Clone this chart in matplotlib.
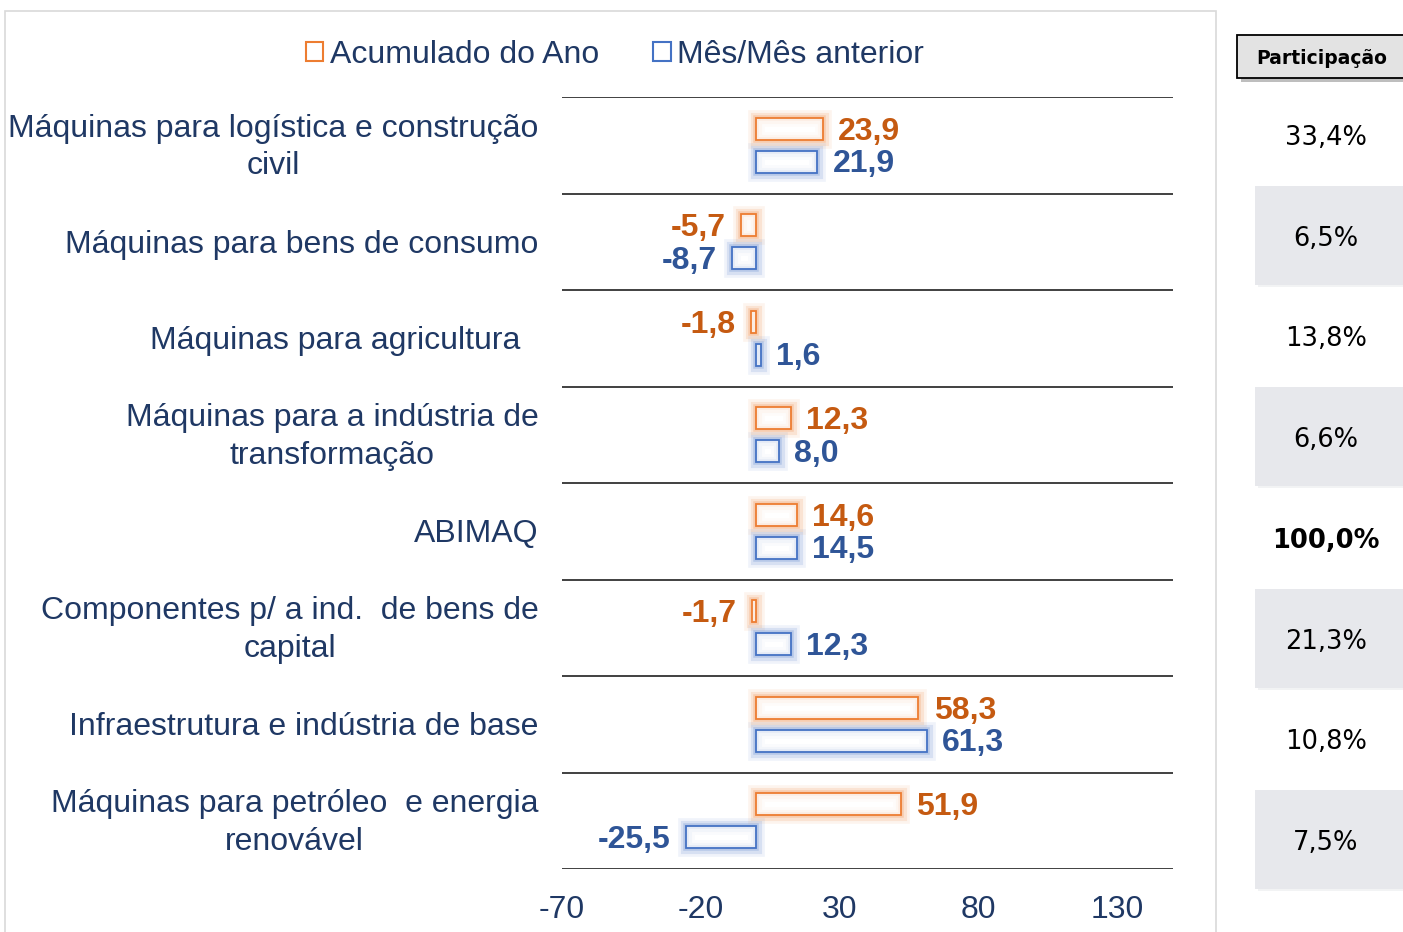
import matplotlib.pyplot as plt
import matplotlib.patheffects as pe
import matplotlib.transforms as mtransforms
from matplotlib.patches import Rectangle
import numpy as np

plt.rcParams['font.family'] = ['Liberation Sans', 'DejaVu Sans']

categorias = ['Máquinas para logística e construção\ncivil',
              'Máquinas para bens de consumo',
              'Máquinas para agricultura  ',
              'Máquinas para a indústria de\ntransformação',
              'ABIMAQ',
              'Componentes p/ a ind.  de bens de\ncapital',
              'Infraestrutura e indústria de base',
              'Máquinas para petróleo  e energia\nrenovável']
acumulado = [23.9, -5.7, -1.8, 12.3, 14.6, -1.7, 58.3, 51.9]
mes_mes = [21.9, -8.7, 1.6, 8.0, 14.5, 12.3, 61.3, -25.5]
participacao = ['33,4%', '6,5%', '13,8%', '6,6%', '100,0%', '21,3%', '10,8%', '7,5%']
xticks = [-70, -20, 30, 80, 130]

laranja = '#ed7d31'
azul = '#4472c4'
txt_laranja = '#c55a11'
txt_azul = '#2f5597'
navy = '#1f3864'

fig = plt.figure(figsize=(14.03, 9.32), dpi=100)

# moldura do grafico
fig.patches.append(Rectangle((5 / 1403, -0.05), 1211 / 1403, 1.04 - 11 / 932 + 0.01,
                             transform=fig.transFigure, fill=False,
                             edgecolor='#d9d9d9', lw=1.2))

ax = fig.add_axes([562 / 1403, 1 - 869 / 932, 611 / 1403, 772 / 932])
y = np.arange(len(categorias))
h = 0.23
off = 0.17

def glow(c):
    return [pe.Stroke(linewidth=12, foreground=c, alpha=0.08),
            pe.Stroke(linewidth=8, foreground=c, alpha=0.14),
            pe.Stroke(linewidth=4, foreground=c, alpha=0.22),
            pe.Normal()]

for vals, dy, ec, tc in [(acumulado, -off, laranja, txt_laranja),
                         (mes_mes, off, azul, txt_azul)]:
    bars = ax.barh(y + dy, vals, height=h, left=0, facecolor=(1, 1, 1, 0.6),
                   edgecolor=ec, linewidth=1.3)
    for b in bars:
        b.set_path_effects(glow(ec))
    for yi, v in zip(y + dy, vals):
        s = f'{v:.1f}'.replace('.', ',')
        if v >= 0:
            ax.annotate(s, (v, yi), xytext=(11, -2), textcoords='offset points',
                        ha='left', va='center', color=tc,
                        fontsize=23, fontweight='bold')
        else:
            ax.annotate(s, (v, yi), xytext=(-11, -2), textcoords='offset points',
                        ha='right', va='center', color=tc,
                        fontsize=23, fontweight='bold')

for yy in np.arange(-0.5, len(categorias), 1.0):
    ax.axhline(yy, color='#404040', lw=1.4)

ax.set_xlim(-70, 150)
ax.set_ylim(len(categorias) - 0.5, -0.5)
ax.set_xticks(xticks)
ax.set_xticklabels([str(t) for t in xticks], color=navy, fontsize=23)
ax.tick_params(axis='x', length=0, pad=19)
ax.set_yticks(y)
ax.set_yticklabels([])
ax.tick_params(axis='y', length=0)
for sp in ax.spines.values():
    sp.set_visible(False)

# rotulos das categorias
lab_trans = mtransforms.blended_transform_factory(ax.transAxes, ax.transData)
for yi, c in zip(y, categorias):
    dy_pt = -1.5 if '\n' in c else -2
    ax.annotate(c, (0, yi), xycoords=lab_trans, xytext=(-17, dy_pt),
                textcoords='offset points', ha='right', va='center',
                multialignment='center', linespacing=1.32,
                color=navy, fontsize=23, annotation_clip=False)

# legenda
handles = [Rectangle((0, 0), 1, 1, facecolor='white', edgecolor=laranja, lw=1.5),
           Rectangle((0, 0), 1, 1, facecolor='white', edgecolor=azul, lw=1.5)]
leg = fig.legend(handles, ['Acumulado do Ano', 'Mês/Mês anterior'], ncol=2,
                 loc='center', bbox_to_anchor=(615 / 1403, 1 - 55 / 932),
                 frameon=False, fontsize=23, handlelength=0.55, handleheight=0.55,
                 handletextpad=0.2, columnspacing=1.7)
for t in leg.get_texts():
    t.set_color(navy)

# painel Participacao
fig.patches.append(Rectangle((1241 / 1403, 1 - 82 / 932), 170 / 1403, 43 / 932,
                             transform=fig.transFigure, facecolor='#7f7f7f',
                             edgecolor='none', alpha=0.5))
fig.patches.append(Rectangle((1237 / 1403, 1 - 78 / 932), 170 / 1403, 43 / 932,
                             transform=fig.transFigure, facecolor='#e3e3e3',
                             edgecolor='black', lw=1.3))
fig.text(1322 / 1403, 1 - 59 / 932, 'Participação', ha='center', va='center',
         fontsize=13.5, fontweight='bold', family='DejaVu Sans')

for i, p in enumerate(participacao):
    yc = 135 + i * 100.7
    if i % 2 == 1:
        fig.patches.append(Rectangle((1258 / 1403, 1 - (yc + 51) / 932), 150 / 1403,
                                     101 / 932, transform=fig.transFigure,
                                     facecolor='#eaebee', edgecolor='none', alpha=0.6))
        fig.patches.append(Rectangle((1255 / 1403, 1 - (yc + 49) / 932), 150 / 1403,
                                     99 / 932, transform=fig.transFigure,
                                     facecolor='#e7e8ec', edgecolor='none'))
    fig.text(1326 / 1403, 1 - (yc + 3) / 932, p, ha='center', va='center',
             fontsize=18.5, family='DejaVu Sans', color='black',
             fontweight='bold' if p == '100,0%' else 'normal')

plt.savefig('out.png', dpi=100)
